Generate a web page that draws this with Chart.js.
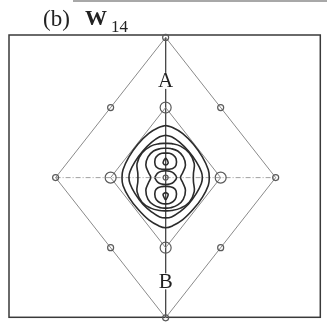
<!DOCTYPE html>
<html>
<head>
<meta charset="utf-8">
<script src="https://cdn.jsdelivr.net/npm/chart.js@4.4.0/dist/chart.umd.min.js"></script>
<style>
  html, body { margin: 0; padding: 0; background: #fff; }
  #wrap { position: relative; width: 327px; height: 324px; }
  #rule { position: absolute; left: 73px; top: 0; width: 254px; height: 2px; background: #a8a8a8; }
</style>
</head>
<body>
<div id="wrap">
  <div id="rule"></div>
  <canvas id="chart" width="327" height="324"></canvas>
</div>
<script>
// lattice: inner diamond vertices at unit distance, outer at 2
const diamondOuter = [[0, 2], [2, 0], [0, -2], [-2, 0], [0, 2]];
const diamondInner = [[0, 1], [1, 0], [0, -1], [-1, 0], [0, 1]];
const axisVertical = [[0, 2], [0, -2]];
const axisHorizontal = [[-2, 0], [2, 0]];
const nodesSmall = [[0, 2], [2, 0], [0, -2], [-2, 0], [1, 1], [1, -1], [-1, 1], [-1, -1]];
const nodesLarge = [[0, 1], [1, 0], [0, -1], [-1, 0]];
const nodeCentre = [[0, 0]];

// level curves, outermost first
const contour1 = [[0, 0.744], [-0.126, 0.716], [-0.306, 0.632], [-0.505, 0.477], [-0.667, 0.295], [-0.775, 0.112],
  [-0.793, 0], [-0.775, -0.112], [-0.667, -0.281], [-0.505, -0.449], [-0.306, -0.604], [-0.126, -0.688], [0, -0.716],
  [0.126, -0.688], [0.306, -0.604], [0.505, -0.449], [0.667, -0.281], [0.775, -0.112], [0.793, 0],
  [0.775, 0.112], [0.667, 0.295], [0.505, 0.477], [0.306, 0.632], [0.126, 0.716], [0, 0.744]];
const contour2 = [[0, 0.604], [-0.108, 0.582], [-0.252, 0.505], [-0.414, 0.379], [-0.559, 0.225], [-0.649, 0.084],
  [-0.667, 0], [-0.649, -0.084], [-0.559, -0.225], [-0.414, -0.379], [-0.252, -0.491], [-0.108, -0.561], [0, -0.575],
  [0.108, -0.561], [0.252, -0.491], [0.414, -0.379], [0.559, -0.225], [0.649, -0.084], [0.667, 0],
  [0.649, 0.084], [0.559, 0.225], [0.414, 0.379], [0.252, 0.505], [0.108, 0.582], [0, 0.604]];
const contour3 = [[0, 0.49], [-0.11, 0.485], [-0.27, 0.45], [-0.43, 0.35], [-0.52, 0.20], [-0.505, 0.055],
  [-0.505, -0.055], [-0.52, -0.20], [-0.43, -0.35], [-0.27, -0.435], [-0.11, -0.47], [0, -0.475],
  [0.11, -0.47], [0.27, -0.435], [0.43, -0.35], [0.52, -0.20], [0.505, -0.055], [0.505, 0.055],
  [0.52, 0.20], [0.43, 0.35], [0.27, 0.45], [0.11, 0.485], [0, 0.49]];
const contour4 = [[0, 0.42], [-0.09, 0.415], [-0.22, 0.38], [-0.32, 0.295], [-0.36, 0.18], [-0.31, 0.07],
  [-0.27, 0], [-0.31, -0.07], [-0.36, -0.18], [-0.32, -0.31], [-0.22, -0.39], [-0.09, -0.43], [0, -0.435],
  [0.09, -0.43], [0.22, -0.39], [0.32, -0.31], [0.36, -0.18], [0.31, -0.07], [0.27, 0],
  [0.31, 0.07], [0.36, 0.18], [0.32, 0.295], [0.22, 0.38], [0.09, 0.415], [0, 0.42]];
const lobeUpper = [[0, 0.35], [-0.07, 0.347], [-0.14, 0.32], [-0.19, 0.27], [-0.19, 0.18], [-0.14, 0.135],
  [-0.07, 0.12], [0, 0.117], [0.07, 0.12], [0.14, 0.135], [0.19, 0.18], [0.19, 0.27], [0.14, 0.32],
  [0.07, 0.347], [0, 0.35]];
const lobeLower = [[0, -0.125], [-0.07, -0.128], [-0.14, -0.145], [-0.19, -0.19], [-0.19, -0.28], [-0.14, -0.34],
  [-0.07, -0.37], [0, -0.375], [0.07, -0.37], [0.14, -0.34], [0.19, -0.28], [0.19, -0.19], [0.14, -0.145],
  [0.07, -0.128], [0, -0.125]];
const dropUpper = [[0, 0.28], [-0.036, 0.24], [-0.045, 0.205], [0, 0.18], [0.045, 0.205], [0.036, 0.24], [0, 0.28]];
const dropLower = [[0, -0.21], [-0.045, -0.235], [-0.036, -0.27], [0, -0.315], [0.036, -0.27], [0.045, -0.235], [0, -0.21]];
const eye = [[-0.20, 0], [-0.145, 0.063], [-0.072, 0.091], [0, 0.098], [0.072, 0.091], [0.145, 0.063], [0.20, 0],
  [0.145, -0.063], [0.072, -0.091], [0, -0.098], [-0.072, -0.091], [-0.145, -0.063], [-0.20, 0]];

const pointLabels = ['A', 'B'];
const pointLabelY = [1.38, -1.48];

const xy = pts => pts.map(([x, y]) => ({ x, y }));

function straight(pts, color, width, dash) {
  return {
    data: xy(pts), showLine: true, tension: 0, pointRadius: 0,
    borderColor: color, borderWidth: width, borderDash: dash || [], clip: false, order: 3
  };
}

function curve(pts) {
  return {
    data: xy(pts), showLine: true, tension: 0.4, pointRadius: 0,
    borderColor: '#2b2b2b', borderWidth: 1.6, clip: false, order: 2
  };
}

function nodes(pts, r) {
  return {
    data: xy(pts), showLine: false, pointRadius: r, pointStyle: 'circle',
    pointBorderColor: '#5a5a5a', pointBackgroundColor: 'rgba(0,0,0,0)', pointBorderWidth: 1.2,
    clip: false, order: 1
  };
}

const framePlugin = {
  id: 'frame',
  beforeDatasetsDraw(chart) {
    const { ctx, chartArea: a } = chart;
    ctx.save();
    ctx.strokeStyle = '#3a3a3a';
    ctx.lineWidth = 1.5;
    ctx.strokeRect(a.left, a.top, a.right - a.left, a.bottom - a.top);
    ctx.restore();
  }
};

const letterPlugin = {
  id: 'letters',
  afterDatasetsDraw(chart) {
    const { ctx, scales } = chart;
    ctx.save();
    ctx.font = '21px "Liberation Serif"';
    ctx.textAlign = 'center';
    ctx.textBaseline = 'middle';
    pointLabels.forEach((t, i) => {
      const px = scales.x.getPixelForValue(0);
      const py = scales.y.getPixelForValue(pointLabelY[i]);
      ctx.fillStyle = '#fff';
      ctx.fillRect(px - 9, py - 8, 18, 16);
      ctx.fillStyle = '#222';
      ctx.fillText(t, px, py + 1);
    });
    ctx.restore();
  }
};

const titlePlugin = {
  id: 'panelTitle',
  afterDraw(chart) {
    const ctx = chart.ctx;
    ctx.save();
    ctx.fillStyle = '#222';
    ctx.textBaseline = 'alphabetic';
    ctx.font = '23px "Liberation Serif"';
    ctx.fillText('(b)', 43, 26);
    ctx.font = 'bold 22px "Liberation Serif"';
    ctx.fillText('W', 85, 25);
    ctx.font = '17px "Liberation Serif"';
    ctx.fillText('14', 111, 32);
    ctx.restore();
  }
};

new Chart(document.getElementById('chart'), {
  type: 'scatter',
  data: {
    datasets: [
      straight(diamondOuter, '#8a8a8a', 1),
      straight(diamondInner, '#8a8a8a', 1),
      straight(axisVertical, '#4a4a4a', 1),
      straight(axisHorizontal, '#a0a0a0', 1, [5, 2, 1, 2]),
      curve(contour1), curve(contour2), curve(contour3), curve(contour4),
      curve(lobeUpper), curve(lobeLower), curve(dropUpper), curve(dropLower), curve(eye),
      nodes(nodesSmall, 3), nodes(nodesLarge, 5.5), nodes(nodeCentre, 2.5)
    ]
  },
  options: {
    responsive: false,
    devicePixelRatio: 1,
    animation: false,
    layout: { padding: { left: 9, right: 4, top: 35, bottom: 2 } },
    scales: {
      x: { type: 'linear', min: -2.847, max: 2.811, display: false },
      y: { type: 'linear', min: -1.993, max: 2.035, display: false }
    },
    plugins: { legend: { display: false }, tooltip: { enabled: false } }
  },
  plugins: [framePlugin, letterPlugin, titlePlugin]
});
</script>
</body>
</html>
